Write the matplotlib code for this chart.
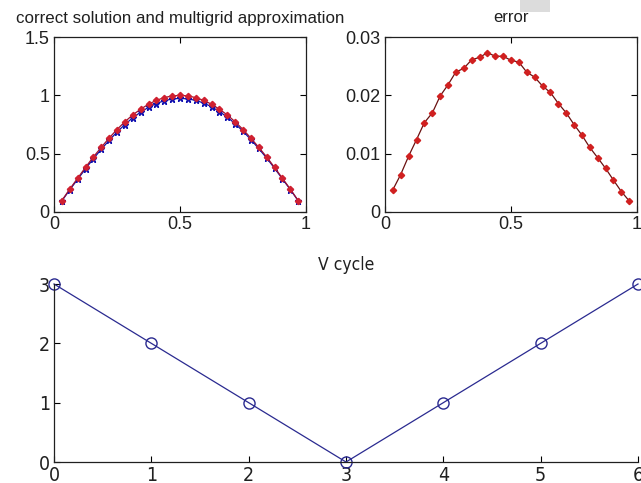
import matplotlib
matplotlib.use("Agg")
import matplotlib.pyplot as plt
from matplotlib.patches import Rectangle

# grid points x_k = k/32
x = [0.031, 0.062, 0.094, 0.125, 0.156, 0.188, 0.219, 0.25, 0.281, 0.312,
     0.344, 0.375, 0.406, 0.438, 0.469, 0.5, 0.531, 0.562, 0.594, 0.625,
     0.656, 0.688, 0.719, 0.75, 0.781, 0.812, 0.844, 0.875, 0.906, 0.938, 0.969]

exact = [0.0980, 0.1951, 0.2903, 0.3827, 0.4714, 0.5556, 0.6344, 0.7071, 0.7730, 0.8315,
         0.8819, 0.9239, 0.9569, 0.9808, 0.9952, 1.0000, 0.9952, 0.9808, 0.9569, 0.9239,
         0.8819, 0.8315, 0.7730, 0.7071, 0.6344, 0.5556, 0.4714, 0.3827, 0.2903, 0.1951, 0.0980]

approx = [0.0942, 0.1887, 0.2807, 0.3703, 0.4561, 0.5386, 0.6145, 0.6853, 0.7490, 0.8069,
          0.8558, 0.8974, 0.9296, 0.9541, 0.9685, 0.9740, 0.9695, 0.9568, 0.9338, 0.9023,
          0.8614, 0.8129, 0.7560, 0.6921, 0.6212, 0.5445, 0.4621, 0.3752, 0.2848, 0.1916, 0.0961]

error = [0.0038, 0.0064, 0.0096, 0.0124, 0.0153, 0.0170, 0.0199, 0.0218, 0.0240, 0.0246,
         0.0261, 0.0265, 0.0273, 0.0267, 0.0267, 0.0260, 0.0257, 0.0240, 0.0231, 0.0216,
         0.0205, 0.0186, 0.0170, 0.0150, 0.0132, 0.0111, 0.0093, 0.0075, 0.0055, 0.0035, 0.0019]

v_step = [0, 1, 2, 3, 4, 5, 6]
v_level = [3, 2, 1, 0, 1, 2, 3]

W, H = 641, 483
fig = plt.figure(figsize=(W / 100, H / 100), dpi=100)
fig.patch.set_facecolor("white")

FONT = "Liberation Sans"


def ax_px(l, t, r, b):
    return fig.add_axes([l / W, 1 - b / H, (r - l) / W, (b - t) / H])


def style(ax, box=True):
    ax.tick_params(direction="in", length=4, width=0.8, labelsize=13,
                   top=box, right=box, pad=3)
    for s in ax.spines.values():
        s.set_linewidth(0.9)
        s.set_color("#202020")
    if not box:
        ax.spines["top"].set_visible(False)
        ax.spines["right"].set_visible(False)
    for lab in ax.get_xticklabels() + ax.get_yticklabels():
        lab.set_fontfamily(FONT)
        lab.set_color("#202020")


# top-left
ax1 = ax_px(54, 37, 306, 212)
ax1.plot(x, approx, color="#1010a0", lw=0.9, marker="*", ms=5, mec="#1010b0", mfc="#1010b0")
ax1.plot(x, exact, color="#a01030", lw=0.9, marker="D", ms=3.2, mec="#d02030", mfc="#d02030")
ax1.set_xlim(0, 1)
ax1.set_ylim(0, 1.5)
ax1.set_xticks([0, 0.5, 1])
ax1.set_xticklabels(["0", "0.5", "1"])
ax1.set_yticks([0, 0.5, 1, 1.5])
ax1.set_yticklabels(["0", "0.5", "1", "1.5"])
style(ax1)
ax1.set_title("correct solution and multigrid approximation", fontsize=12.2,
              fontfamily=FONT, color="#202020", pad=0, y=1 + 19 / 175, va="center")

# top-right
ax2 = ax_px(385, 37, 637, 212)
ax2.plot(x, error, color="#6a1010", lw=0.9, marker="D", ms=3.2, mec="#d02020", mfc="#d02020")
ax2.set_xlim(0, 1)
ax2.set_ylim(0, 0.03)
ax2.set_xticks([0, 0.5, 1])
ax2.set_xticklabels(["0", "0.5", "1"])
ax2.set_yticks([0, 0.01, 0.02, 0.03])
ax2.set_yticklabels(["0", "0.01", "0.02", "0.03"])
style(ax2)
ax2.set_title("error", fontsize=12, fontfamily=FONT, color="#202020",
              pad=0, y=1 + 19 / 175, va="center")

# bottom
ax3 = ax_px(54, 284, 638, 462)
ax3.plot(v_step, v_level, color="#2a2a90", lw=0.9, marker="o", ms=8,
         mfc="none", mec="#2a2a90", mew=1.0, clip_on=False)
ax3.set_xlim(0, 6)
ax3.set_ylim(0, 3)
ax3.set_xticks(v_step)
ax3.set_yticks([0, 1, 2, 3])
style(ax3, box=False)
for lab in ax3.get_xticklabels() + ax3.get_yticklabels():
    lab.set_fontfamily("DejaVu Sans")
    lab.set_fontstretch("condensed")
    lab.set_fontsize(14)
ax3.set_title("V cycle", fontsize=12.5, fontfamily="DejaVu Sans", fontstretch="condensed",
              color="#202020", pad=0, y=1 + 19 / 178, va="center")

# light grey artefact at top
fig.patches.append(Rectangle((520 / W, 1 - 12 / H), 30 / W, 12 / H,
                             transform=fig.transFigure, facecolor="#dcdcdc",
                             edgecolor="none"))

fig.savefig("out.png", dpi=100, facecolor="white")
